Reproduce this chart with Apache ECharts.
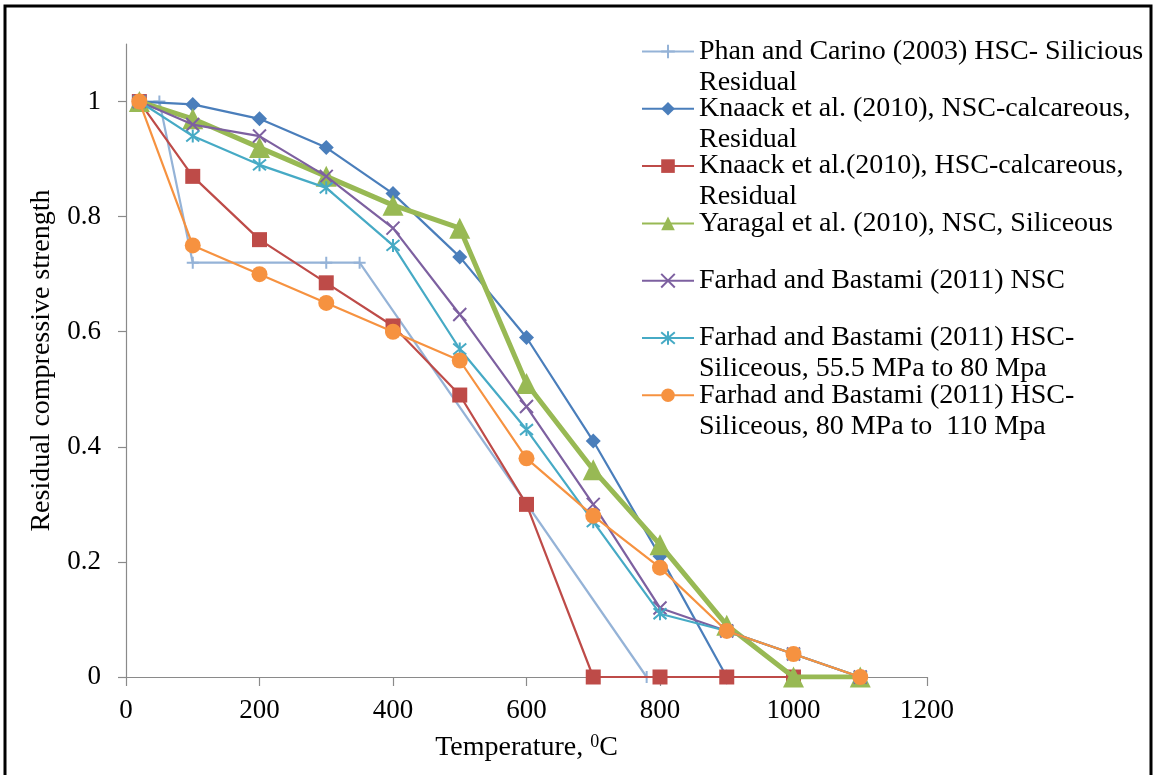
<!DOCTYPE html>
<html>
<head>
<meta charset="utf-8">
<script src="https://cdn.jsdelivr.net/npm/echarts@6/dist/echarts.min.js"></script>
<style>
  html, body { margin: 0; padding: 0; background: #ffffff; }
  #chart { width: 1154px; height: 775px; }
</style>
</head>
<body>
<div id="chart"></div>
<script>
// Temperatures (°C) shared by most test series
const temps = [20, 100, 200, 300, 400, 500, 600, 700, 800, 900, 1000, 1100];

// Phan and Carino uses its own temperature steps
const phanTemps = [20, 50, 100, 300, 350, 780];
const phanValues = [1.0, 1.0, 0.72, 0.72, 0.72, 0];

// Residual compressive strength ratios, aligned with `temps`
const knaackNscValues = [1.0, 0.995, 0.97, 0.92, 0.84, 0.73, 0.59, 0.41, 0.21, 0];
const knaackHscValues = [1.0, 0.87, 0.76, 0.685, 0.61, 0.49, 0.30, 0, 0, 0, 0];
const yaragalValues = [1.0, 0.97, 0.92, 0.87, 0.82, 0.78, 0.51, 0.36, 0.23, 0.09, 0, 0];
const farhadNscValues = [1.0, 0.96, 0.94, 0.87, 0.78, 0.63, 0.47, 0.30, 0.12, 0.08, 0.04, 0];
const farhadHsc55Values = [1.0, 0.94, 0.89, 0.85, 0.75, 0.57, 0.43, 0.27, 0.11, 0.08, 0.04, 0];
const farhadHsc80Values = [1.0, 0.75, 0.70, 0.65, 0.60, 0.55, 0.38, 0.28, 0.19, 0.08, 0.04, 0];

// Legend entries, one sub-array per wrapped line
const legendLines = [
  ['Phan and Carino (2003) HSC- Silicious', 'Residual'],
  ['Knaack et al. (2010), NSC-calcareous,', 'Residual'],
  ['Knaack et al.(2010), HSC-calcareous,', 'Residual'],
  ['Yaragal et al. (2010), NSC, Siliceous'],
  ['Farhad and Bastami (2011) NSC'],
  ['Farhad and Bastami (2011) HSC-', 'Siliceous, 55.5 MPa to 80 Mpa'],
  ['Farhad and Bastami (2011) HSC-', 'Siliceous, 80 MPa to  110 Mpa']
];
const seriesNames = legendLines.map(l => l.join(' '));

// Axis ticks
const xTickStep = 200;
const yTickValues = [0, 0.2, 0.4, 0.6, 0.8, 1];

const FONT = 'Liberation Serif';

function pairs(xs, ys) {
  return ys.map((v, i) => [xs[i], v]);
}

// Marker outlines for the stroked symbols
const plusPath = 'path://M5,0L5,10M0,5L10,5';
const crossPath = 'path://M0,0L10,10M10,0L0,10';
const starPath = 'path://M0,0L10,10M10,0L0,10M5,-1L5,11';

function lineSeries(idx, data, color, opts) {
  return Object.assign({
    name: seriesNames[idx],
    type: 'line',
    data: data,
    color: color,
    lineStyle: { color: color, width: 2.2 },
    itemStyle: { color: color, borderWidth: 0 },
    emphasis: { disabled: true },
    z: 2 + idx
  }, opts);
}

const series = [
  lineSeries(0, pairs(phanTemps, phanValues), '#95B3D7', {
    symbol: plusPath, symbolSize: 12,
    itemStyle: { color: '#95B3D7', borderColor: '#95B3D7', borderWidth: 2 }
  }),
  lineSeries(1, pairs(temps, knaackNscValues), '#4A7EBB', {
    symbol: 'diamond', symbolSize: 15
  }),
  lineSeries(2, pairs(temps, knaackHscValues), '#BE4B48', {
    symbol: 'rect', symbolSize: 15
  }),
  lineSeries(3, pairs(temps, yaragalValues), '#98B954', {
    symbol: 'triangle', symbolSize: 21,
    lineStyle: { color: '#98B954', width: 5 }
  }),
  lineSeries(4, pairs(temps, farhadNscValues), '#7D60A0', {
    symbol: crossPath, symbolSize: 13,
    itemStyle: { color: '#7D60A0', borderColor: '#7D60A0', borderWidth: 2 }
  }),
  lineSeries(5, pairs(temps, farhadHsc55Values), '#46AAC5', {
    symbol: starPath, symbolSize: 13,
    itemStyle: { color: '#46AAC5', borderColor: '#46AAC5', borderWidth: 2 }
  }),
  lineSeries(6, pairs(temps, farhadHsc80Values), '#F69240', {
    symbol: 'circle', symbolSize: 16
  })
];

const chart = echarts.init(document.getElementById('chart'), null, { renderer: 'canvas' });

chart.setOption({
  animation: false,
  backgroundColor: '#ffffff',
  textStyle: { fontFamily: FONT },
  grid: {
    left: 126, right: 227, top: 44, bottom: 98,
    containLabel: false,
    outerBoundsMode: 'none'
  },
  xAxis: {
    type: 'value',
    min: 0, max: 1200, interval: xTickStep,
    axisLine: { show: true, onZero: false, lineStyle: { color: '#8A8A8A', width: 1.2 } },
    axisTick: { show: true, inside: false, length: 9, lineStyle: { color: '#8A8A8A', width: 1.2 } },
    splitLine: { show: false },
    axisLabel: { color: '#000', fontFamily: FONT, fontSize: 27, margin: 20,
      formatter: v => String(v) },
    name: '{n|Temperature, }{s|0}{n|C}',
    nameLocation: 'middle',
    nameGap: 56,
    nameTextStyle: {
      color: '#000', fontFamily: FONT, fontSize: 28,
      rich: {
        n: { fontFamily: FONT, fontSize: 28, color: '#000', lineHeight: 30 },
        s: { fontFamily: FONT, fontSize: 18, color: '#000', verticalAlign: 'top', lineHeight: 30 }
      }
    }
  },
  yAxis: {
    type: 'value',
    min: 0, max: 1.1, interval: 0.2,
    axisLine: { show: true, onZero: false, lineStyle: { color: '#8A8A8A', width: 1.2 } },
    axisTick: { show: true, inside: false, length: 8, customValues: yTickValues,
      lineStyle: { color: '#8A8A8A', width: 1.2 } },
    splitLine: { show: false },
    axisLabel: { color: '#000', fontFamily: FONT, fontSize: 27, margin: 25,
      customValues: yTickValues, formatter: v => String(+v.toFixed(1)) },
    name: 'Residual compressive strength',
    nameLocation: 'middle',
    nameGap: 70,
    nameTextStyle: { color: '#000', fontFamily: FONT, fontSize: 28 }
  },
  legend: {
    orient: 'vertical',
    left: 641,
    top: 5,
    padding: 0,
    itemWidth: 52,
    itemHeight: 17,
    itemGap: -35.7,
    selectedMode: false,
    data: seriesNames,
    formatter: function (name) {
      const lines = legendLines[seriesNames.indexOf(name)];
      return '\n' + lines[0] + '\n' + (lines[1] || '');
    },
    textStyle: { color: '#000', fontFamily: FONT, fontSize: 28, lineHeight: 31 }
  },
  graphic: [{
    type: 'rect',
    silent: true,
    z: 100,
    shape: { x: 5, y: 6, width: 1146, height: 800 },
    style: { fill: 'none', stroke: '#000', lineWidth: 3 }
  }],
  series: series
});
</script>
</body>
</html>
